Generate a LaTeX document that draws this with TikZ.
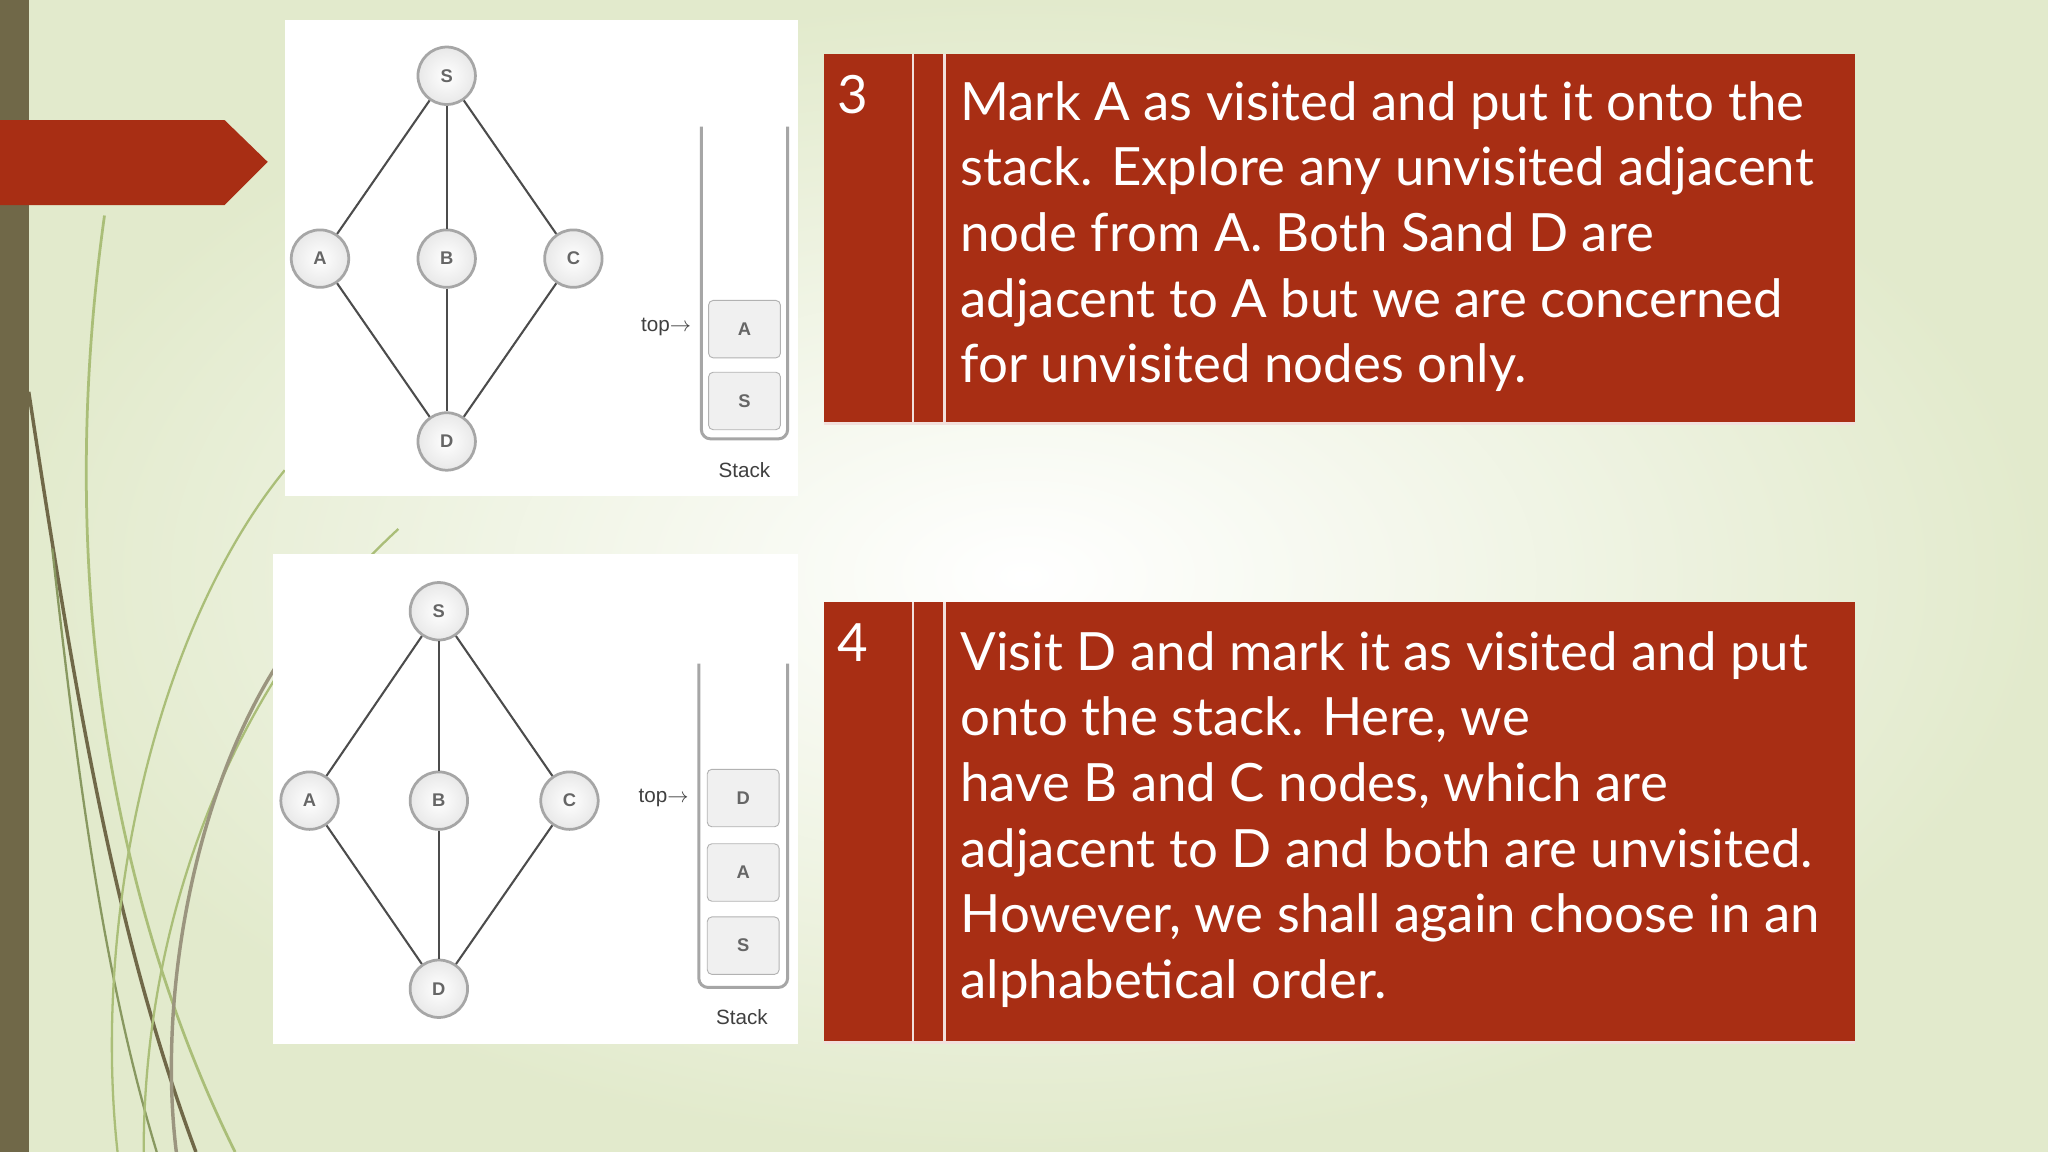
\documentclass[tikz,border=0pt]{standalone}
\usepackage{fontspec}
\setmainfont{Lato}
\newfontfamily\gfont{Liberation Sans}
\begin{document}
\begin{tikzpicture}[x=0.02cm,y=-0.02cm,
  gn/.style={circle,minimum size=0.88cm,inner sep=0pt,draw=gray!70,line width=1.2pt,inner color=white,outer color=gray!18,font=\gfont\footnotesize\bfseries,text=gray!80!black},
  sbox/.style={rectangle,rounded corners=2pt,minimum width=1.1cm,minimum height=0.88cm,draw=gray!60,fill=gray!12,font=\gfont\footnotesize\bfseries,text=gray!80!black},
  edge/.style={draw=gray!60!black,line width=0.9pt},
  redc/.style={fill=red!50!orange!70!black},
  txt/.style={anchor=north west,align=left,text=white,font=\fontsize{23}{28.6}\selectfont,inner sep=0pt}]
\definecolor{bgA}{RGB}{226,234,204}
\definecolor{myred}{RGB}{168,46,20}
\definecolor{olive}{RGB}{112,104,72}
\definecolor{lgreen}{RGB}{170,190,120}
\useasboundingbox (0,0) rectangle (1568,882);
\shade[inner color=white,outer color=bgA] (0,0) rectangle (1568,882);
\fill[olive] (0,0) rectangle (22,882);
% decorative curves
\draw[lgreen,line width=1.2pt] (80,165) .. controls (40,450) and (90,700) .. (180,882);
\draw[olive,line width=1.5pt] (22,300) .. controls (60,550) and (90,720) .. (150,882);
\draw[lgreen!80!black,line width=1pt] (40,420) .. controls (60,600) and (80,750) .. (120,882);
\draw[lgreen,line width=1pt] (305,405) .. controls (180,520) and (110,700) .. (110,882);
\draw[olive!70,line width=1.5pt] (218,500) .. controls (150,600) and (120,760) .. (135,882);
\draw[lgreen,line width=1pt] (218,360) .. controls (120,480) and (70,700) .. (90,882);
% red arrow
\fill[myred] (0,92) -- (172,92) -- (205,124) -- (172,157) -- (0,157) -- cycle;
% panels
\fill[white] (218,15) rectangle (611,380);
\fill[white] (209,424) rectangle (611,799);
% graph 1
\node[gn] (s1) at (342,58) {S};
\node[gn] (a1) at (245,198) {A};
\node[gn] (b1) at (342,198) {B};
\node[gn] (c1) at (439,198) {C};
\node[gn] (d1) at (342,338) {D};
\foreach \u/\v in {s1/a1,s1/b1,s1/c1,a1/d1,b1/d1,c1/d1} \draw[edge] (\u)--(\v);
\draw[gray!70,line width=1.3pt,rounded corners=4pt] (537,97) -- (537,336) -- (603,336) -- (603,97);
\node[sbox] (sa1) at (570,252) {A};
\node[sbox] (ss1) at (570,307) {S};
\node[font=\gfont\small,text=gray!50!black] (t1) at (510,250) {top$\to$};
\node[font=\gfont\small,text=gray!50!black] (st1) at (570,360) {Stack};
% graph 2
\node[gn] (s2) at (336,468) {S};
\node[gn] (a2) at (237,613) {A};
\node[gn] (b2) at (336,613) {B};
\node[gn] (c2) at (436,613) {C};
\node[gn] (d2) at (336,757) {D};
\foreach \u/\v in {s2/a2,s2/b2,s2/c2,a2/d2,b2/d2,c2/d2} \draw[edge] (\u)--(\v);
\draw[gray!70,line width=1.3pt,rounded corners=4pt] (535,508) -- (535,756) -- (603,756) -- (603,508);
\node[sbox] (sd2) at (569,611) {D};
\node[sbox] (sa2) at (569,668) {A};
\node[sbox] (ss2) at (569,724) {S};
\node[font=\gfont\small,text=gray!50!black] (t2) at (508,611) {top$\to$};
\node[font=\gfont\small,text=gray!50!black] (st2) at (568,779) {Stack};
% tables
\foreach \ya/\yb in {41/324,461/798}{
  \fill[myred] (631,\ya) rectangle (1420,\yb);
  \draw[white!85!myred,line width=1.2pt] (699,\ya) -- (699,\yb) (723,\ya) -- (723,\yb) (631,\yb) -- (1420,\yb);
}
\node[txt] (n3) at (641,57) {3};
\node[txt] (n4) at (641,477) {4};
\node[txt] (p3) at (735,62) {Mark A as visited and put it onto the\\stack. Explore any unvisited adjacent\\node from A. Both Sand D are\\adjacent to A but we are concerned\\for unvisited nodes only.};
\node[txt] (p4) at (735,483) {Visit D and mark it as visited and put\\onto the stack. Here, we\\have B and C nodes, which are\\adjacent to D and both are unvisited.\\However, we shall again choose in an\\alphabetical order.};
\end{tikzpicture}
\end{document}
